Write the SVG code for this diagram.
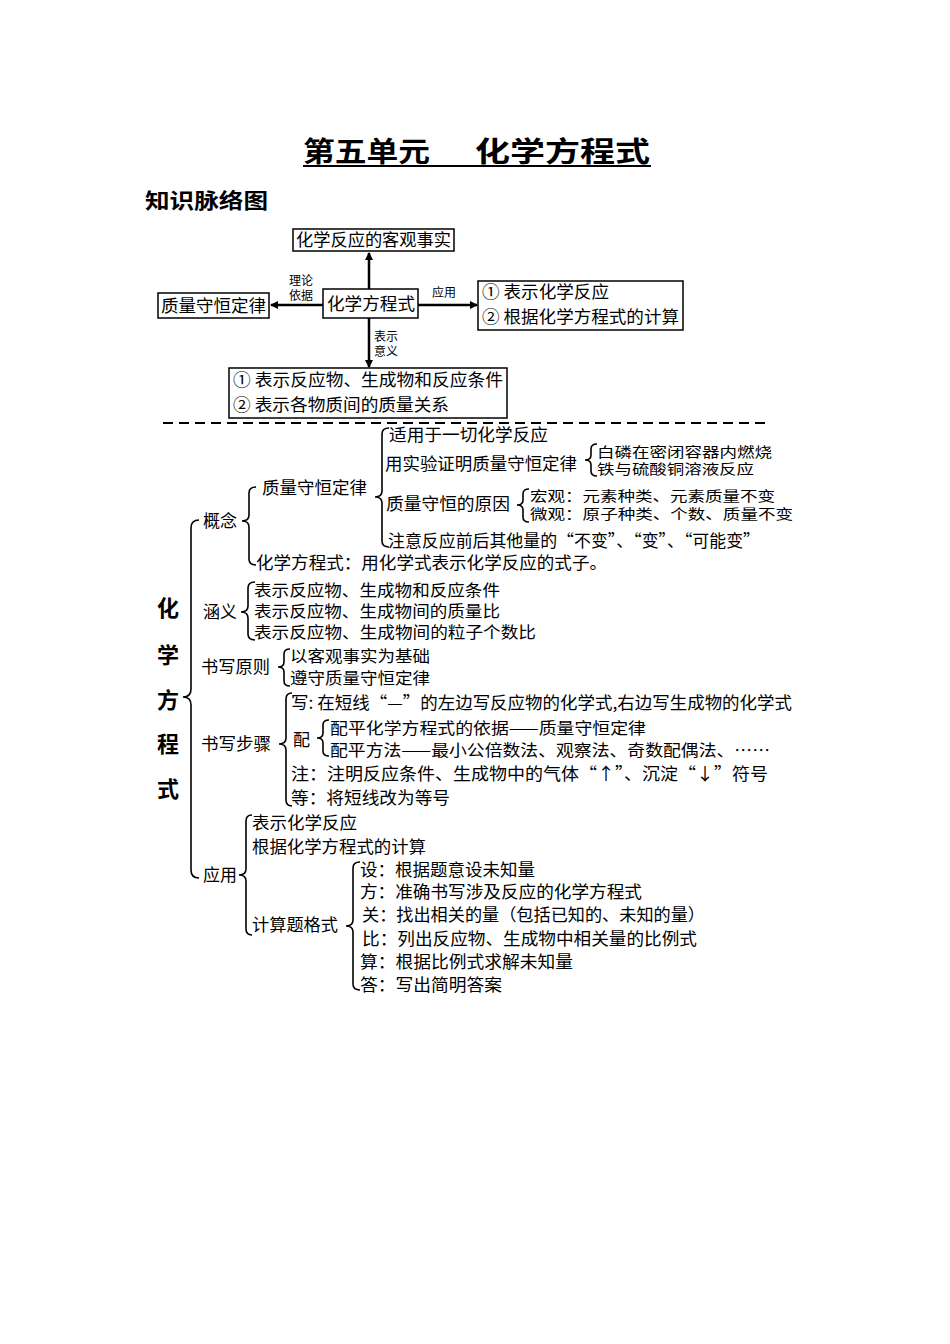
<svg xmlns="http://www.w3.org/2000/svg" width="950" height="1344" viewBox="0 0 950 1344">
<style>
.t{font-family:"Noto Sans CJK SC","Liberation Sans",sans-serif;font-size:17px;fill:#000}
.c{font-family:"Noto Sans CJK SC","Liberation Sans",sans-serif;font-size:16px;fill:#000}
.m{font-family:"Noto Sans CJK SC","Liberation Sans",sans-serif;font-size:14px;fill:#000}
.s{font-family:"Noto Sans CJK SC","Liberation Sans",sans-serif;font-size:12px;fill:#000}
.b{font-family:"Noto Sans CJK SC","Liberation Serif",serif;font-weight:bold;fill:#000}
.box{fill:#fff;stroke:#000;stroke-width:1.5}
.ln{fill:none;stroke:#000;stroke-width:2.5}
.br{fill:none;stroke:#000;stroke-width:1.6}
</style>
<defs>
<marker id="ah" markerWidth="8" markerHeight="8" refX="7" refY="4" orient="auto" markerUnits="userSpaceOnUse" viewBox="0 0 8 8">
<path d="M0,0 L8,4 L0,8 Z" fill="#000"/>
</marker>
</defs>
<rect width="950" height="1344" fill="#fff"/>

<g id="title">
<text class="b" x="303" y="162" font-size="28" textLength="127" lengthAdjust="spacingAndGlyphs">第五单元</text>
<text class="b" x="475" y="162" font-size="28" textLength="175" lengthAdjust="spacingAndGlyphs">化学方程式</text>
<line x1="303" y1="166" x2="651" y2="166" stroke="#000" stroke-width="2"/>
</g>
<g id="subtitle">
<text class="b" x="145" y="208" font-size="21" textLength="123" lengthAdjust="spacingAndGlyphs">知识脉络图</text>
</g>

<g id="connectors">
<line class="ln" x1="369" y1="289" x2="369" y2="253" marker-end="url(#ah)"/>
<line class="ln" x1="323" y1="305" x2="271" y2="305" marker-end="url(#ah)"/>
<line class="ln" x1="418" y1="305" x2="477" y2="305" marker-end="url(#ah)"/>
<line class="ln" x1="369" y1="318" x2="369" y2="367" marker-end="url(#ah)"/>
<text class="s" x="289" y="285">理论</text>
<text class="s" x="289" y="300">依据</text>
<text class="s" x="432" y="297" font-size="14">应用</text>
<text class="s" x="374" y="341">表示</text>
<text class="s" x="374" y="356">意义</text>
<line x1="163" y1="423" x2="770" y2="423" stroke="#000" stroke-width="2" stroke-dasharray="10 6"/>
<path class="br" d="M199,520 Q191,520 191,528 L191,689 Q191,697 183,697 Q191,697 191,705 L191,870 Q191,878 199,878"/>
<path class="br" d="M256,487 Q249,487 249,493 L249,515 Q249,521 242,521 Q249,521 249,527 L249,559 Q249,565 256,565"/>
<path class="br" d="M389,428 Q382,428 382,434 L382,491 Q382,497 375,497 Q382,497 382,503 L382,541 Q382,547 389,547"/>
<path class="br" d="M597,444 Q591,444 591,449 L591,455 Q591,460 585,460 Q591,460 591,465 L591,471 Q591,476 597,476"/>
<path class="br" d="M529,489 Q523,489 523,494 L523,500 Q523,505 517,505 Q523,505 523,510 L523,517 Q523,522 529,522"/>
<path class="br" d="M255,582 Q248,582 248,588 L248,606 Q248,612 241,612 Q248,612 248,618 L248,634 Q248,640 255,640"/>
<path class="br" d="M290,649 Q284,649 284,654 L284,662 Q284,667 278,667 Q284,667 284,672 L284,681 Q284,686 290,686"/>
<path class="br" d="M292,693 Q286,693 286,699 L286,738 Q286,744 279,744 Q286,744 286,750 L286,800 Q286,806 292,806"/>
<path class="br" d="M329,720 Q323,720 323,725 L323,733 Q323,738 317,738 Q323,738 323,743 L323,751 Q323,756 329,756"/>
<path class="br" d="M252,815 Q246,815 246,821 L246,869 Q246,875 239,875 Q246,875 246,881 L246,929 Q246,935 252,935"/>
<path class="br" d="M360,862 Q353,862 353,868 L353,920 Q353,926 346,926 Q353,926 353,932 L353,984 Q353,990 360,990"/>
</g>

<g id="node-fact">
<rect class="box" x="293" y="229" width="161" height="22"/>
<text class="t" x="296" y="246" textLength="155" lengthAdjust="spacingAndGlyphs">化学反应的客观事实</text>
</g>
<g id="node-equation">
<rect class="box" x="323" y="289" width="95" height="29"/>
<text class="t" x="327" y="310" textLength="88" lengthAdjust="spacingAndGlyphs">化学方程式</text>
</g>
<g id="node-law">
<rect class="box" x="158" y="293" width="111" height="25"/>
<text class="t" x="161" y="312" textLength="105" lengthAdjust="spacingAndGlyphs">质量守恒定律</text>
</g>
<g id="node-use">
<rect class="box" x="478" y="281" width="205" height="49"/>
<text class="t" x="482" y="298" textLength="127" lengthAdjust="spacingAndGlyphs">① 表示化学反应</text>
<text class="t" x="482" y="323" textLength="197" lengthAdjust="spacingAndGlyphs">② 根据化学方程式的计算</text>
</g>
<g id="node-meaning">
<rect class="box" x="229" y="368" width="278" height="50"/>
<text class="t" x="233" y="386" textLength="270" lengthAdjust="spacingAndGlyphs">① 表示反应物、生成物和反应条件</text>
<text class="t" x="233" y="411" textLength="216" lengthAdjust="spacingAndGlyphs">② 表示各物质间的质量关系</text>
</g>

<g id="node-root">
<text class="b" x="168" y="616" font-size="22" text-anchor="middle">化</text>
<text class="b" x="168" y="663" font-size="22" text-anchor="middle">学</text>
<text class="b" x="168" y="708" font-size="22" text-anchor="middle">方</text>
<text class="b" x="168" y="752" font-size="22" text-anchor="middle">程</text>
<text class="b" x="168" y="797" font-size="22" text-anchor="middle">式</text>
</g>

<g id="node-concept">
<text class="t" x="203" y="527" textLength="34" lengthAdjust="spacingAndGlyphs">概念</text>
<text class="t" x="262" y="494" textLength="105" lengthAdjust="spacingAndGlyphs">质量守恒定律</text>
<text class="t" x="389" y="441" textLength="159" lengthAdjust="spacingAndGlyphs">适用于一切化学反应</text>
<text class="t" x="385" y="470" textLength="192" lengthAdjust="spacingAndGlyphs">用实验证明质量守恒定律</text>
<text class="m" x="597" y="457" textLength="175" lengthAdjust="spacingAndGlyphs">白磷在密闭容器内燃烧</text>
<text class="m" x="597" y="474" textLength="157" lengthAdjust="spacingAndGlyphs">铁与硫酸铜溶液反应</text>
<text class="t" x="386" y="510" textLength="124" lengthAdjust="spacingAndGlyphs">质量守恒的原因</text>
<text class="m" x="530" y="501" textLength="245" lengthAdjust="spacingAndGlyphs">宏观：元素种类、元素质量不变</text>
<text class="m" x="530" y="519" textLength="263" lengthAdjust="spacingAndGlyphs">微观：原子种类、个数、质量不变</text>
<text class="t" x="388" y="547" textLength="372" lengthAdjust="spacingAndGlyphs">注意反应前后其他量的“不变”、“变”、“可能变”</text>
<text class="t" x="256" y="569" textLength="351" lengthAdjust="spacingAndGlyphs">化学方程式：用化学式表示化学反应的式子。</text>
</g>

<g id="node-meaning2">
<text class="t" x="203" y="618" textLength="34" lengthAdjust="spacingAndGlyphs">涵义</text>
<text class="c" x="254" y="596" textLength="246" lengthAdjust="spacingAndGlyphs">表示反应物、生成物和反应条件</text>
<text class="c" x="254" y="617" textLength="246" lengthAdjust="spacingAndGlyphs">表示反应物、生成物间的质量比</text>
<text class="c" x="254" y="638" textLength="282" lengthAdjust="spacingAndGlyphs">表示反应物、生成物间的粒子个数比</text>
</g>

<g id="node-principle">
<text class="t" x="201" y="673" textLength="69" lengthAdjust="spacingAndGlyphs">书写原则</text>
<text class="c" x="290" y="662" textLength="140" lengthAdjust="spacingAndGlyphs">以客观事实为基础</text>
<text class="c" x="290" y="684" textLength="140" lengthAdjust="spacingAndGlyphs">遵守质量守恒定律</text>
</g>

<g id="node-steps">
<text class="t" x="201" y="750" textLength="70" lengthAdjust="spacingAndGlyphs">书写步骤</text>
<text class="t" x="291" y="709" textLength="501" lengthAdjust="spacingAndGlyphs">写: 在短线“—”的左边写反应物的化学式,右边写生成物的化学式</text>
<text class="t" x="293" y="746">配</text>
<text class="c" x="330" y="734" textLength="316" lengthAdjust="spacingAndGlyphs">配平化学方程式的依据——质量守恒定律</text>
<text class="c" x="330" y="756" textLength="440" lengthAdjust="spacingAndGlyphs">配平方法——最小公倍数法、观察法、奇数配偶法、……</text>
<text class="t" x="291" y="780" textLength="477" lengthAdjust="spacingAndGlyphs">注：注明反应条件、生成物中的气体“↑”、沉淀“↓”符号</text>
<text class="t" x="291" y="804" textLength="159" lengthAdjust="spacingAndGlyphs">等：将短线改为等号</text>
</g>

<g id="node-apply">
<text class="t" x="203" y="881" textLength="34" lengthAdjust="spacingAndGlyphs">应用</text>
<text class="t" x="252" y="829" textLength="105" lengthAdjust="spacingAndGlyphs">表示化学反应</text>
<text class="t" x="252" y="853" textLength="174" lengthAdjust="spacingAndGlyphs">根据化学方程式的计算</text>
<text class="t" x="252" y="931" textLength="86" lengthAdjust="spacingAndGlyphs">计算题格式</text>
<text class="t" x="360" y="876" textLength="175" lengthAdjust="spacingAndGlyphs">设：根据题意设未知量</text>
<text class="t" x="360" y="898" textLength="282" lengthAdjust="spacingAndGlyphs">方：准确书写涉及反应的化学方程式</text>
<text class="t" x="362" y="921" textLength="343" lengthAdjust="spacingAndGlyphs">关：找出相关的量（包括已知的、未知的量）</text>
<text class="t" x="362" y="945" textLength="335" lengthAdjust="spacingAndGlyphs">比：列出反应物、生成物中相关量的比例式</text>
<text class="t" x="360" y="968" textLength="213" lengthAdjust="spacingAndGlyphs">算：根据比例式求解未知量</text>
<text class="t" x="360" y="991" textLength="142" lengthAdjust="spacingAndGlyphs">答：写出简明答案</text>
</g>
</svg>
